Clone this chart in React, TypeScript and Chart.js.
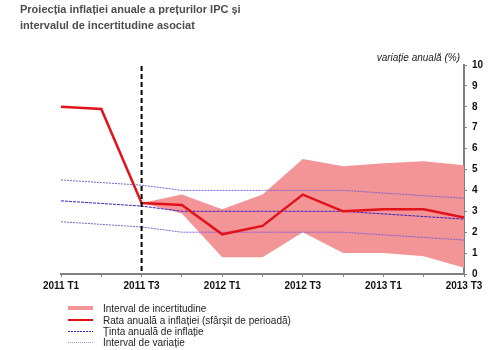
import React, { useEffect, useRef } from "react";
import { Chart, registerables } from "chart.js";

Chart.register(...registerables);

const quarters = ["2011 T1", "2011 T2", "2011 T3", "2011 T4", "2012 T1", "2012 T2", "2012 T3", "2012 T4", "2013 T1", "2013 T2", "2013 T3"];
const inflation = [8.0, 7.9, 3.4, 3.3, 1.9, 2.3, 3.8, 3.0, 3.1, 3.1, 2.7];
const bandUpper = [null, null, 3.4, 3.8, 3.1, 3.8, 5.5, 5.15, 5.3, 5.4, 5.2];
const bandLower = [null, null, 3.4, 2.9, 0.8, 0.8, 2.0, 1.0, 1.0, 0.85, 0.3];
const target = [3.5, 3.375, 3.25, 3.0, 3.0, 3.0, 3.0, 3.0, 2.875, 2.75, 2.625];
const targetUpper = [4.5, 4.375, 4.25, 4.0, 4.0, 4.0, 4.0, 4.0, 3.875, 3.75, 3.625];
const targetLower = [2.5, 2.375, 2.25, 2.0, 2.0, 2.0, 2.0, 2.0, 1.875, 1.75, 1.625];
const yTicks = [0, 1, 2, 3, 4, 5, 6, 7, 8, 9, 10];
const forecastStart = "2011 T3";

const titleLines = ["Proiecția inflației anuale a prețurilor IPC și", "intervalul de incertitudine asociat"];
const axisTitle = "variație anuală (%)";
const legendItems = [
  { label: "Interval de incertitudine", kind: "band", color: "#f39597" },
  { label: "Rata anuală a inflației (sfârșit de perioadă)", kind: "line", color: "#e2121a" },
  { label: "Ținta anuală de inflație", kind: "dash", color: "#3a1fc0" },
  { label: "Interval de variație", kind: "dot", color: "#a58fe0" },
];

const FONT = "Arial, 'Liberation Sans', sans-serif";

const overlay = {
  id: "overlay",
  afterDatasetsDraw(chart: any) {
    const { ctx, chartArea, scales } = chart;
    const x = scales.x.getPixelForValue(quarters.indexOf(forecastStart));
    ctx.save();
    ctx.strokeStyle = "#000";
    ctx.lineWidth = 2;
    ctx.setLineDash([5, 3]);
    ctx.beginPath();
    ctx.moveTo(x, chartArea.top + 1);
    ctx.lineTo(x, chartArea.bottom);
    ctx.stroke();
    ctx.restore();
  },
  afterDraw(chart: any) {
    const { ctx } = chart;
    ctx.save();
    ctx.fillStyle = "#4d4d4d";
    ctx.font = `bold 11px ${FONT}`;
    ctx.textBaseline = "alphabetic";
    ctx.textAlign = "left";
    ctx.fillText(titleLines[0], 20, 13);
    ctx.fillText(titleLines[1], 20, 29);

    ctx.fillStyle = "#222";
    ctx.font = `italic 10px ${FONT}`;
    ctx.textAlign = "right";
    ctx.fillText(axisTitle, 460, 61);

    ctx.textAlign = "left";
    ctx.font = `10px ${FONT}`;
    const baselines = [312, 323.5, 334.5, 345.5];
    legendItems.forEach((it, i) => {
      const by = baselines[i];
      const cy = Math.round(by - 4);
      ctx.save();
      if (it.kind === "band") {
        ctx.fillStyle = it.color;
        ctx.fillRect(68, cy - 2, 25, 4);
      } else {
        ctx.strokeStyle = it.color;
        ctx.lineWidth = it.kind === "line" ? 2 : 1;
        if (it.kind === "dash") ctx.setLineDash([2, 1]);
        if (it.kind === "dot") ctx.setLineDash([1, 1]);
        ctx.beginPath();
        ctx.moveTo(68, cy + (it.kind === "line" ? 0 : 0.5));
        ctx.lineTo(93, cy + (it.kind === "line" ? 0 : 0.5));
        ctx.stroke();
      }
      ctx.restore();
      ctx.fillStyle = "#222";
      ctx.fillText(it.label, 103, by);
    });
    ctx.restore();
  },
};

export default function App() {
  const ref = useRef<HTMLCanvasElement>(null);
  useEffect(() => {
    if (!ref.current) return;
    const chart = new Chart(ref.current, {
      type: "line",
      data: {
        labels: quarters,
        datasets: [
          { label: "Rata", data: inflation, borderColor: "#e2121a", borderWidth: 2.5, pointRadius: 0, fill: false, order: 0, tension: 0 },
          { label: "Tinta", data: target, borderColor: "#3a1fc0", borderWidth: 1, borderDash: [3, 1], pointRadius: 0, fill: false, order: 1 },
          { label: "Sus", data: targetUpper, borderColor: "#7f5fd6", borderWidth: 1, borderDash: [2, 1], pointRadius: 0, fill: false, order: 1 },
          { label: "Jos", data: targetLower, borderColor: "#7f5fd6", borderWidth: 1, borderDash: [2, 1], pointRadius: 0, fill: false, order: 1 },
          { label: "BandUp", data: bandUpper as any, borderWidth: 0, borderColor: "rgba(0,0,0,0)", backgroundColor: "#f39597", pointRadius: 0, fill: "+1", order: 2 },
          { label: "BandLo", data: bandLower as any, borderWidth: 0, borderColor: "rgba(0,0,0,0)", backgroundColor: "#f39597", pointRadius: 0, fill: false, order: 2 },
        ],
      },
      options: {
        responsive: false,
        animation: false,
        events: [],
        layout: { padding: { left: 61, top: 65, right: 0, bottom: 56 } },
        plugins: { legend: { display: false }, title: { display: false }, tooltip: { enabled: false } },
        scales: {
          x: {
            type: "category",
            offset: false,
            grid: { drawOnChartArea: false, tickLength: 3, color: "#808080", lineWidth: 1 },
            border: { color: "#808080", width: 2 },
            ticks: {
              autoSkip: false,
              maxRotation: 0,
              padding: 3,
              color: "#111",
              font: { family: FONT, size: 10, weight: "bold" },
              callback: (_v: any, i: number) => (i % 2 === 0 ? quarters[i] : ""),
            },
            afterFit: (s: any) => { s.height = 20; },
          },
          y: {
            position: "right",
            min: 0,
            max: 10,
            afterBuildTicks: (s: any) => { s.ticks = yTicks.map((v) => ({ value: v })); },
            grid: { drawOnChartArea: false, tickLength: 3, color: "#808080", lineWidth: 1 },
            border: { color: "#808080", width: 2 },
            ticks: { padding: 5, color: "#111", font: { family: FONT, size: 10, weight: "bold" } },
            afterFit: (s: any) => { s.width = 36; },
          },
        },
      },
      plugins: [overlay],
    });
    return () => chart.destroy();
  }, []);
  return (
    <div style={{ position: "absolute", left: 0, top: 0, width: 500, height: 350, background: "#fff" }}>
      <canvas ref={ref} width={500} height={350} />
    </div>
  );
}
